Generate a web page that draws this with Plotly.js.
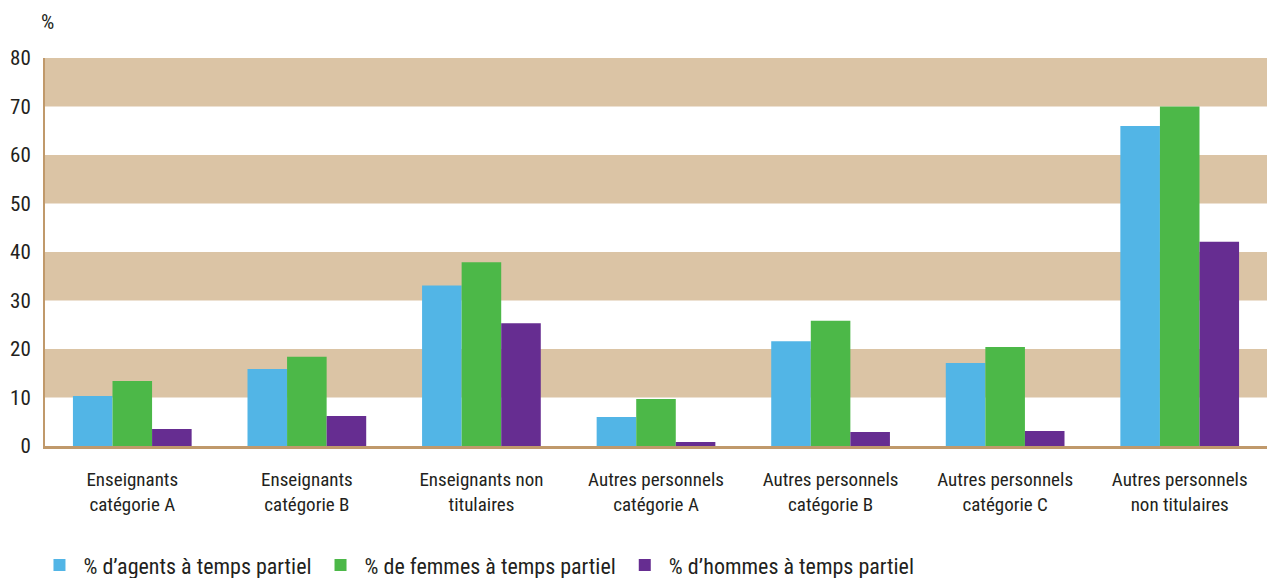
<!DOCTYPE html>
<html><head><meta charset="utf-8">
<script src="https://cdn.plot.ly/plotly-3.0.1.min.js"></script>
<style>body{margin:0;padding:0;background:#fff}#chart{width:1267px;height:578px}</style>
</head><body><div id="chart"></div>
<script>
const categories = ["Enseignants<br>catégorie A","Enseignants<br>catégorie B","Enseignants non<br>titulaires","Autres personnels<br>catégorie A","Autres personnels<br>catégorie B","Autres personnels<br>catégorie C","Autres personnels<br>non titulaires"];
const agents = [10.3, 15.9, 33.1, 6.0, 21.6, 17.1, 66.0];
const femmes = [13.4, 18.4, 37.9, 9.7, 25.8, 20.4, 70.0];
const hommes = [3.5, 6.2, 25.3, 0.8, 2.9, 3.1, 42.1];
const seriesNames = ["% d’agents à temps partiel","% de femmes à temps partiel","% d’hommes à temps partiel"];
const colors = ["#52b5e6","#4cb848","#662d91"];
const yTicks = [0,10,20,30,40,50,60,70,80];
const bands = [[10,20],[30,40],[50,60],[70,80]];

const font = "'Liberation Sans Narrow','Roboto Condensed',Roboto,sans-serif";
const traces = [agents, femmes, hommes].map((v,i)=>({
  type:'bar', x:categories, y:v, name:seriesNames[i],
  marker:{color:colors[i], line:{width:0}}
}));
const shapes = bands.map(b=>({type:'rect', xref:'paper', yref:'y', x0:0, x1:1, y0:b[0], y1:b[1], fillcolor:'#dbc4a5', line:{width:0}, layer:'below'}));
const layout = {
  width:1267, height:578,
  margin:{l:45, r:0, t:58, b:132, autoexpand:false},
  paper_bgcolor:'#fff', plot_bgcolor:'#fff',
  font:{family:font, size:18, color:'#231f20'},
  barmode:'group', bargap:0.32, bargroupgap:0,
  xaxis:{showgrid:false, zeroline:false, showline:true, linecolor:'#c0996b', linewidth:3, ticks:'', tickfont:{size:19}, automargin:false, ticklabelstandoff:14},
  yaxis:{range:[0,80], tickvals:yTicks, showgrid:false, zeroline:false, showline:true, linecolor:'#c0996b', linewidth:2, ticks:'', tickfont:{size:21}, automargin:false, ticklabelstandoff:8},
  shapes:shapes,
  annotations:[{text:'%', xref:'paper', yref:'paper', x:0, y:1, xshift:-6, yshift:36, showarrow:false, xanchor:'left', yanchor:'middle', font:{size:21}}],
  legend:{orientation:'h', x:0.028, xanchor:'left', xref:'container', yref:'container', y:0.022, yanchor:'middle', font:{size:22}, traceorder:'normal', itemwidth:38},
  showlegend:true
};
Plotly.newPlot('chart', traces, layout, {displayModeBar:false, staticPlot:true});
</script></body></html>
